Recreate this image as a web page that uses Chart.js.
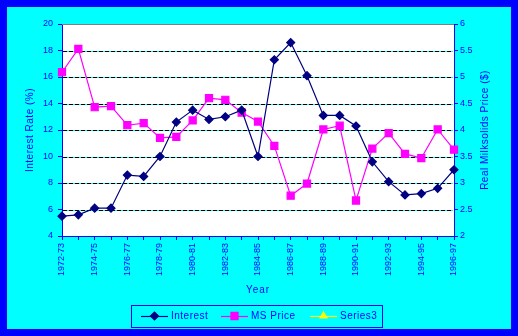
<!DOCTYPE html>
<html>
<head>
<meta charset="utf-8">
<script src="https://cdn.jsdelivr.net/npm/chart.js@4.4.0/dist/chart.umd.min.js"></script>
<style>
  html, body { margin: 0; padding: 0; }
  body { width: 518px; height: 336px; background: #0000ff; overflow: hidden; }
  #frame { position: absolute; left: 7px; top: 7px; width: 504px; height: 322px; background: #00ffff; }
</style>
</head>
<body>
<div id="frame"><canvas id="chart"></canvas></div>
<script>
// Season labels
const years = [
  "1972-73", "1973-74", "1974-75", "1975-76", "1976-77", "1977-78", "1978-79",
  "1979-80", "1980-81", "1981-82", "1982-83", "1983-84", "1984-85", "1985-86",
  "1986-87", "1987-88", "1988-89", "1989-90", "1990-91", "1991-92", "1992-93",
  "1993-94", "1994-95", "1995-96", "1996-97",
];

// Interest rate (%), left axis
const interestRate = [
  5.5, 5.6, 6.1, 6.1, 8.6, 8.5, 10.0, 12.6, 13.5, 12.8, 13.0, 13.5, 10.0,
  17.3, 18.6, 16.1, 13.1, 13.1, 12.3, 9.6, 8.1, 7.1, 7.2, 7.6, 9.0,
];

// Real milksolids price ($), right axis
const msPrice = [
  5.09, 5.53, 4.43, 4.45, 4.09, 4.13, 3.85, 3.87, 4.18, 4.6, 4.57, 4.33, 4.16,
  3.7, 2.76, 2.99, 4.01, 4.08, 2.67, 3.65, 3.94, 3.55, 3.47, 4.01, 3.63,
];

// Empty third series (legend only)
const series3 = [];

const BLUE = "#0000ff";
const FONT = "Liberation Sans, Arial, sans-serif";

const decor = {
  id: "decor",
  beforeDraw(chart) {
    const { ctx, chartArea: a } = chart;
    ctx.save();
    ctx.fillStyle = "#ffffff";
    ctx.fillRect(a.left, a.top, a.right - a.left, a.bottom - a.top);
    ctx.restore();
  },
  beforeDatasetsDraw(chart) {
    const { ctx, chartArea: a } = chart;
    const y = chart.scales.y;
    ctx.save();
    ctx.lineWidth = 1;
    y.ticks.forEach((t) => {
      if (t.value <= y.min || t.value >= y.max) return;
      const py = Math.round(y.getPixelForValue(t.value)) + 0.5;
      ctx.setLineDash([]);
      ctx.strokeStyle = "#00ffff";
      ctx.beginPath();
      ctx.moveTo(a.left + 1, py);
      ctx.lineTo(a.right - 1, py);
      ctx.stroke();
      ctx.setLineDash([4, 2]);
      ctx.strokeStyle = "#000000";
      ctx.beginPath();
      ctx.moveTo(a.left + 1, py);
      ctx.lineTo(a.right - 1, py);
      ctx.stroke();
    });
    // grey frame edge along the top
    ctx.setLineDash([]);
    ctx.strokeStyle = "#808080";
    ctx.beginPath();
    ctx.moveTo(a.left, a.top + 0.5);
    ctx.lineTo(a.right, a.top + 0.5);
    ctx.stroke();
    ctx.restore();
  },
  afterDraw(chart) {
    const { ctx, chartArea: a } = chart;
    const midY = (a.top + a.bottom) / 2;
    ctx.save();
    ctx.fillStyle = BLUE;
    ctx.font = "10px " + FONT;
    ctx.textAlign = "center";
    ctx.textBaseline = "middle";
    ctx.letterSpacing = "0.5px";

    // axis titles
    ctx.save();
    ctx.translate(23, midY);
    ctx.rotate(-Math.PI / 2);
    ctx.fillText("Interest Rate (%)", 0, 0);
    ctx.restore();

    ctx.save();
    ctx.translate(478, midY);
    ctx.rotate(-Math.PI / 2);
    ctx.fillText("Real Milksolids Price ($)", 0, 0);
    ctx.restore();

    ctx.letterSpacing = "1px";
    ctx.fillText("Year", (a.left + a.right) / 2, 283);

    // legend box
    ctx.letterSpacing = "0.5px";
    ctx.strokeStyle = BLUE;
    ctx.lineWidth = 1;
    ctx.strokeRect(124.5, 298.5, 251, 22);
    const ly = 309;
    const items = [
      { ds: chart.data.datasets[0], x: 134 },
      { ds: chart.data.datasets[1], x: 214 },
      { ds: chart.data.datasets[2], x: 303 },
    ];
    ctx.textAlign = "left";
    items.forEach(({ ds, x }) => {
      ctx.strokeStyle = ds.borderColor;
      ctx.lineWidth = 1.2;
      ctx.beginPath();
      ctx.moveTo(x, ly + 0.5);
      ctx.lineTo(x + 27, ly + 0.5);
      ctx.stroke();
      ctx.fillStyle = ds.pointBackgroundColor;
      ctx.strokeStyle = ds.pointBorderColor;
      Chart.helpers.drawPoint(ctx, {
        pointStyle: ds.pointStyle,
        radius: ds.pointRadius,
        rotation: 0,
        borderWidth: 1,
      }, x + 13.5, ly);
      ctx.fillStyle = BLUE;
      ctx.fillText(ds.label, x + 30, ly);
    });
    ctx.restore();
  },
};

const ctx = document.getElementById("chart").getContext("2d");
new Chart(ctx, {
  type: "line",
  data: {
    labels: years,
    datasets: [
      {
        label: "Interest",
        data: interestRate,
        yAxisID: "y",
        borderColor: "#000080",
        borderWidth: 1.2,
        pointStyle: "rectRot",
        pointRadius: 4,
        pointBackgroundColor: "#000080",
        pointBorderColor: "#000080",
        tension: 0,
      },
      {
        label: "MS Price",
        data: msPrice,
        yAxisID: "y1",
        borderColor: "#ff00ff",
        borderWidth: 1.2,
        pointStyle: "rect",
        pointRadius: 5,
        pointBackgroundColor: "#ff00ff",
        pointBorderColor: "#ff00ff",
        tension: 0,
      },
      {
        label: "Series3",
        data: series3,
        yAxisID: "y",
        borderColor: "#ffff00",
        pointStyle: "triangle",
        pointRadius: 4,
        pointBackgroundColor: "#ffff00",
        pointBorderColor: "#ffff00",
      },
    ],
  },
  options: {
    responsive: true,
    maintainAspectRatio: false,
    animation: false,
    layout: { padding: { top: 17, left: 0, right: 0, bottom: 0 } },
    plugins: {
      legend: { display: false },
      tooltip: { enabled: false },
    },
    scales: {
      x: {
        offset: false,
        afterFit: (s) => { s.height = 93; },
        grid: {
          drawOnChartArea: false,
          drawTicks: true,
          tickLength: 4,
          color: BLUE,
        },
        border: { color: BLUE, width: 1 },
        ticks: {
          autoSkip: false,
          minRotation: 90,
          maxRotation: 90,
          padding: 3,
          color: BLUE,
          font: { family: FONT, size: 9 },
          callback: (v, i) => (i % 2 === 0 ? years[i] : ""),
        },
      },
      y: {
        position: "left",
        min: 4,
        max: 20,
        afterFit: (s) => { s.width = 55; },
        grid: {
          drawOnChartArea: false,
          tickLength: 4,
          color: BLUE,
        },
        border: { color: BLUE, width: 1 },
        ticks: {
          stepSize: 2,
          padding: 5,
          color: BLUE,
          font: { family: FONT, size: 9 },
        },
      },
      y1: {
        position: "right",
        min: 2,
        max: 6,
        afterFit: (s) => { s.width = 57; },
        grid: {
          drawOnChartArea: false,
          tickLength: 4,
          color: BLUE,
        },
        border: { color: BLUE, width: 1 },
        ticks: {
          stepSize: 0.5,
          padding: 2,
          color: BLUE,
          font: { family: FONT, size: 9 },
          callback: (v) => String(v),
        },
      },
    },
  },
  plugins: [decor],
});
</script>
</body>
</html>
